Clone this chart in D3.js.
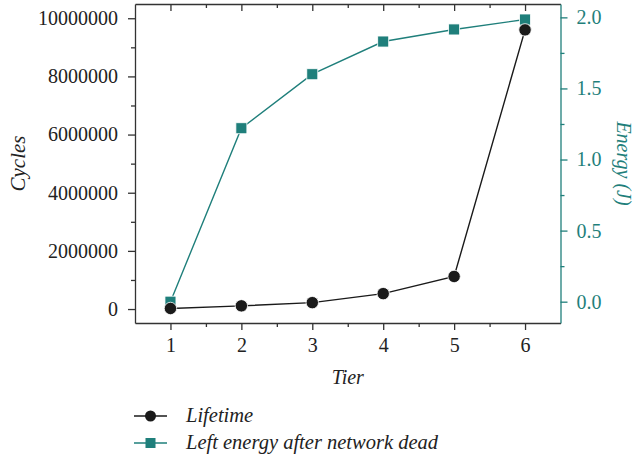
<!DOCTYPE html>
<html><head><meta charset="utf-8">
<script src="https://cdn.jsdelivr.net/npm/d3@7"></script>
<style>body{margin:0;background:#fff}svg{display:block}</style>
</head><body>
<script>
const tiers = [1, 2, 3, 4, 5, 6];
const lifetime = [20000, 110000, 220000, 530000, 1120000, 9600000];
const energy = [0.0, 1.22, 1.60, 1.83, 1.915, 1.985];
const cyclesTicks = [0, 2000000, 4000000, 6000000, 8000000, 10000000];
const energyTicks = [0.0, 0.5, 1.0, 1.5, 2.0];
const seriesNames = ["Lifetime", "Left energy after network dead"];

(function () {
const W = 635, H = 462;
const pL = 135, pR = 560.5, pT = 4, pB = 323;
const teal = "#1f7f7b", dark = "#1a1a1a", axisC = "#333";
const font = "'Liberation Serif', 'DejaVu Serif', serif";

const svg = d3.select("body").append("svg").attr("width", W).attr("height", H)
  .style("font-family", font);

const x = d3.scaleLinear().domain([0.5, 6.5]).range([pL, pR]);
const yL = d3.scaleLinear().domain([-480000, 10490000]).range([pB, pT]);
const yR = d3.scaleLinear().domain([-0.15, 2.094]).range([pB, pT]);

// bottom axis
const gB = svg.append("g").attr("transform", `translate(0,${pB})`)
  .call(d3.axisBottom(x).tickValues(tiers).tickFormat(d3.format("d")).tickSize(7).tickSizeOuter(0));
svg.append("g").attr("transform", `translate(0,${pB})`)
  .call(d3.axisBottom(x).tickValues(d3.range(1.5, 6.5, 1)).tickFormat("").tickSize(4).tickSizeOuter(0))
  .select(".domain").remove();
// top axis (inward ticks)
svg.append("g").attr("transform", `translate(0,${pT})`)
  .call(d3.axisBottom(x).tickValues(tiers).tickFormat("").tickSize(7).tickSizeOuter(0));
svg.append("g").attr("transform", `translate(0,${pT})`)
  .call(d3.axisBottom(x).tickValues(d3.range(1.5, 6.5, 1)).tickFormat("").tickSize(4).tickSizeOuter(0))
  .select(".domain").remove();
// left axis
svg.append("g").attr("transform", `translate(${pL},0)`)
  .call(d3.axisLeft(yL).tickValues(cyclesTicks).tickFormat(d3.format("d")).tickSize(7).tickSizeOuter(0).tickPadding(10));
svg.append("g").attr("transform", `translate(${pL},0)`)
  .call(d3.axisLeft(yL).tickValues(d3.range(1000000, 10500000, 2000000)).tickFormat("").tickSize(4).tickSizeOuter(0))
  .select(".domain").remove();
// right axis
const gR = svg.append("g").attr("transform", `translate(${pR},0)`)
  .call(d3.axisRight(yR).tickValues(energyTicks).tickFormat(d3.format(".1f")).tickSize(7).tickSizeOuter(0).tickPadding(9));
const gR2 = svg.append("g").attr("transform", `translate(${pR},0)`)
  .call(d3.axisRight(yR).tickValues([0.25, 0.75, 1.25, 1.75]).tickFormat("").tickSize(4).tickSizeOuter(0));
gR2.select(".domain").remove();

svg.selectAll(".domain, .tick line").attr("stroke", axisC).attr("stroke-width", 1.3);
svg.selectAll(".tick text").attr("fill", "#222").style("font-size", "20px").style("font-family", font);
gR.selectAll(".domain, .tick line").attr("stroke", teal);
gR2.selectAll(".tick line").attr("stroke", teal);
gR.selectAll(".tick text").attr("fill", teal);
gB.selectAll(".tick text").attr("dy", "0.95em");

// axis titles
svg.append("text").attr("transform", `translate(25,${(pT + pB) / 2}) rotate(-90)`)
  .attr("text-anchor", "middle").style("font-style", "italic").style("font-size", "21px").attr("fill", "#222").text("Cycles");
svg.append("text").attr("transform", `translate(617,${(pT + pB) / 2}) rotate(90)`)
  .attr("text-anchor", "middle").style("font-style", "italic").style("font-size", "20px").attr("fill", teal).text("Energy (J)");
svg.append("text").attr("x", (pL + pR) / 2).attr("y", 384)
  .attr("text-anchor", "middle").style("font-style", "italic").style("font-size", "20px").attr("fill", "#222").text("Tier");

// energy series
const lineE = d3.line().x((d, i) => x(tiers[i])).y(d => yR(d));
svg.append("path").datum(energy).attr("d", lineE).attr("fill", "none").attr("stroke", teal).attr("stroke-width", 1.4);
svg.selectAll(".sq").data(energy).enter().append("rect")
  .attr("x", (d, i) => x(tiers[i]) - 5.5).attr("y", d => yR(d) - 5.5)
  .attr("width", 11).attr("height", 11).attr("fill", teal).attr("stroke", "#fff").attr("stroke-width", 0.8);

// lifetime series
const lineL = d3.line().x((d, i) => x(tiers[i])).y(d => yL(d));
svg.append("path").datum(lifetime).attr("d", lineL).attr("fill", "none").attr("stroke", dark).attr("stroke-width", 1.4);
svg.selectAll(".ci").data(lifetime).enter().append("circle")
  .attr("cx", (d, i) => x(tiers[i])).attr("cy", d => yL(d)).attr("r", 6.2)
  .attr("fill", dark).attr("stroke", "#fff").attr("stroke-width", 0.8);

// legend
const leg = [{n: seriesNames[0], c: dark, s: "circle", y: 416}, {n: seriesNames[1], c: teal, s: "square", y: 443}];
leg.forEach(l => {
  svg.append("line").attr("x1", 134).attr("x2", 167).attr("y1", l.y).attr("y2", l.y).attr("stroke", l.c).attr("stroke-width", 1.4);
  if (l.s === "circle") svg.append("circle").attr("cx", 150.5).attr("cy", l.y).attr("r", 5.5).attr("fill", l.c);
  else svg.append("rect").attr("x", 145.5).attr("y", l.y - 5).attr("width", 10).attr("height", 10).attr("fill", l.c);
  svg.append("text").attr("x", 186).attr("y", l.y + 6).style("font-style", "italic").style("font-size", "20.5px")
    .attr("fill", "#222").text(l.n);
});
})();
</script>
</body></html>
